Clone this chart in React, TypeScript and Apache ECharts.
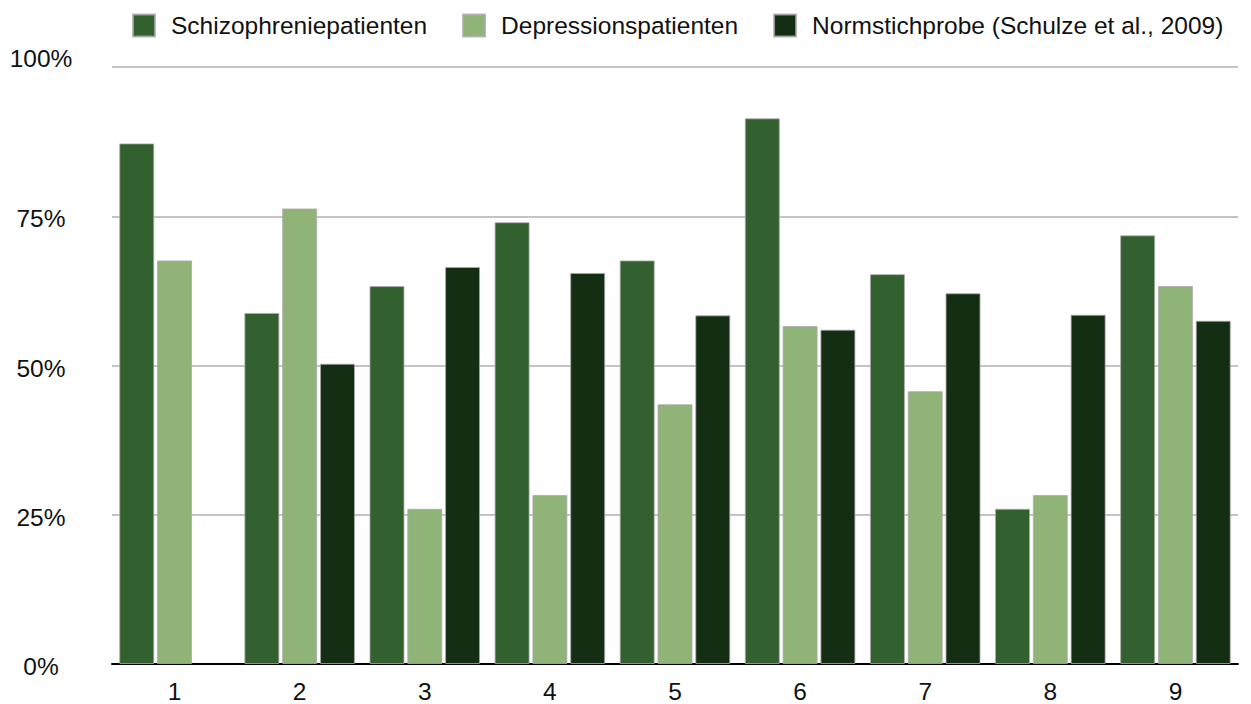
import React, { useEffect, useRef } from "react";
import * as echarts from "echarts";

const categories = ["1", "2", "3", "4", "5", "6", "7", "8", "9"];
const seriesNames = [
  "Schizophreniepatienten",
  "Depressionspatienten",
  "Normstichprobe (Schulze et al., 2009)",
];
const schizophrenie = [87.2, 58.8, 63.3, 74.0, 67.6, 91.4, 65.3, 26.0, 71.8];
const depression = [67.6, 76.3, 26.0, 28.3, 43.5, 56.6, 45.7, 28.3, 63.3];
const norm: (number | null)[] = [null, 50.3, 66.5, 65.5, 58.4, 56.0, 62.1, 58.5, 57.5];
const yTicks = [0, 25, 50, 75, 100];

const colors = ["#32602e", "#90b478", "#132e12"];
const FONT = "'Liberation Sans', Arial, Helvetica, sans-serif";
const FS = 24.5;

export default function App() {
  const ref = useRef<HTMLDivElement>(null);

  useEffect(() => {
    document.body.style.margin = "0";
    if (!ref.current) return;
    const chart = echarts.init(ref.current, undefined, { renderer: "svg" });

    const makeSeries = (name: string, data: (number | null)[], color: string) => ({
      name,
      type: "bar",
      data,
      barWidth: 35,
      barGap: "8%",
      itemStyle: { color, borderColor: "rgba(170,170,170,0.8)", borderWidth: 1 },
    });

    chart.setOption({
      animation: false,
      textStyle: { fontFamily: FONT },
      color: colors,
      legend: {
        left: 127,
        top: 8,
        itemWidth: 22,
        itemHeight: 22,
        itemGap: 35,
        icon: "rect",
        textStyle: {
          fontFamily: FONT,
          fontSize: FS,
          color: "#111",
          padding: [0, 0, 0, 11],
        },
        data: seriesNames,
      },
      grid: { left: 112, right: 13, top: 67, bottom: 36.5, containLabel: false },
      xAxis: {
        type: "category",
        data: categories,
        axisLine: { show: true, lineStyle: { color: "#000", width: 2 } },
        axisTick: { show: false },
        axisLabel: { fontFamily: FONT, fontSize: FS, color: "#111", margin: 15 },
      },
      yAxis: {
        type: "value",
        min: yTicks[0],
        max: yTicks[yTicks.length - 1],
        interval: 25,
        axisLine: { show: false },
        axisTick: { show: false },
        splitLine: { lineStyle: { color: "#b0b0b0", width: 1.5 } },
        axisLabel: {
          align: "center",
          margin: 71,
          color: "#111",
          fontFamily: FONT,
          fontSize: FS,
          formatter: (v: number) => (v === 100 ? "{top|" + v + "%}" : "{mid|" + v + "%}"),
          rich: {
            top: {
              fontFamily: FONT,
              fontSize: FS,
              color: "#111",
              padding: [0, 0, 18, 0],
            },
            mid: {
              fontFamily: FONT,
              fontSize: FS,
              color: "#111",
              padding: [5, 0, 0, 0],
            },
          },
        },
      },
      series: [
        makeSeries(seriesNames[0], schizophrenie, colors[0]),
        makeSeries(seriesNames[1], depression, colors[1]),
        makeSeries(seriesNames[2], norm, colors[2]),
      ],
    });

    return () => chart.dispose();
  }, []);

  return <div ref={ref} style={{ width: 1251, height: 704, overflow: "hidden" }} />;
}
